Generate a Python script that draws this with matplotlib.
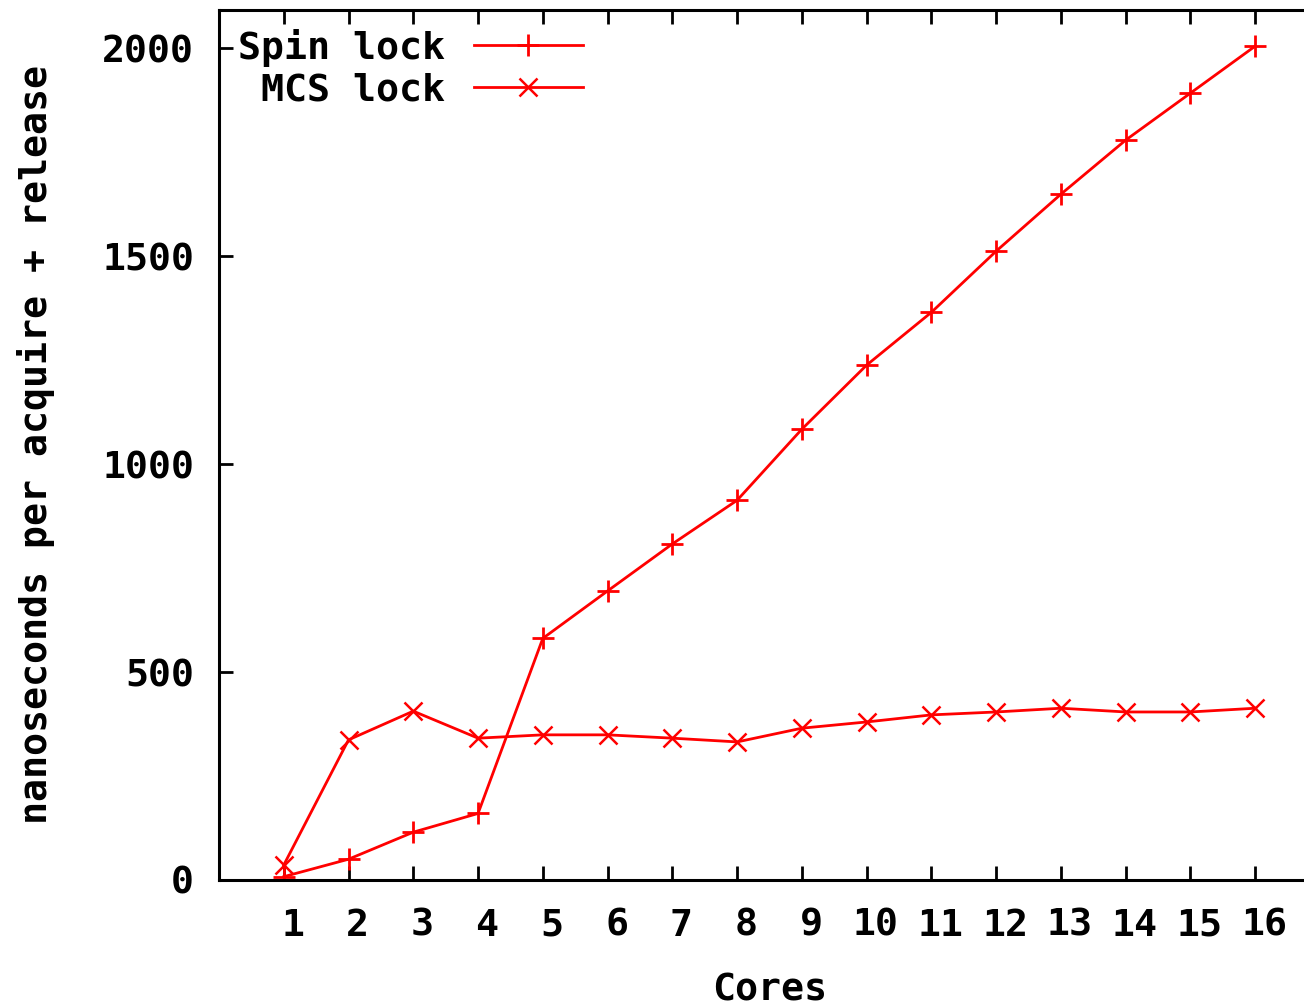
import matplotlib
matplotlib.use("Agg")
import matplotlib.pyplot as plt
from matplotlib.transforms import ScaledTranslation

# values
cores = list(range(1, 17))
spin_lock = [8, 50, 115, 160, 581, 695, 808, 913, 1084, 1238, 1365, 1512, 1649, 1779, 1892, 2005]
mcs_lock = [36, 337, 406, 341, 349, 349, 341, 332, 365, 380, 397, 404, 413, 404, 404, 413]
yticks = [0, 500, 1000, 1500, 2000]

plt.rcParams["font.family"] = ["DejaVu Sans Mono"]
plt.rcParams["font.weight"] = "bold"
plt.rcParams["axes.labelweight"] = "bold"
plt.rcParams["font.size"] = 27.5

fig = plt.figure(figsize=(13.04, 10.07), dpi=100)
# right edge sits past the canvas, like the cropped original
ax = fig.add_axes([219 / 1304, 1 - 880 / 1007, (1320 - 219) / 1304, (880 - 9.5) / 1007])

ax.plot(cores, spin_lock, color="red", lw=2, marker="+", ms=16, mew=2, label="Spin lock")
ax.plot(cores, mcs_lock, color="red", lw=2, marker="x", ms=13, mew=1.8, label=" MCS lock")

ax.set_xlim(0, 17)
ax.set_ylim(0, 2093)
ax.set_xticks(cores)
ax.set_yticks(yticks)
ax.tick_params(direction="in", length=10, width=2, top=True, right=True,
               labelsize=27.5)
ax.tick_params(axis="x", pad=20)
ax.tick_params(axis="y", pad=18)
for s in ax.spines.values():
    s.set_linewidth(2.2)

ax.set_xlabel("Cores", labelpad=21, fontweight="bold")
ax.set_ylabel("nanoseconds per acquire + release", labelpad=34, fontweight="bold")

leg = ax.legend(loc="upper left", frameon=False, markerfirst=False,
                handlelength=2.85, handletextpad=0.75, labelspacing=0.15,
                borderaxespad=0.3, borderpad=0.2, fontsize=27.5)

fig.canvas.draw()
shift = ScaledTranslation(9 / 100, 0, fig.dpi_scale_trans)
for lab in ax.get_xticklabels():
    lab.set_transform(lab.get_transform() + shift)

fig.savefig("out.png", dpi=100)
